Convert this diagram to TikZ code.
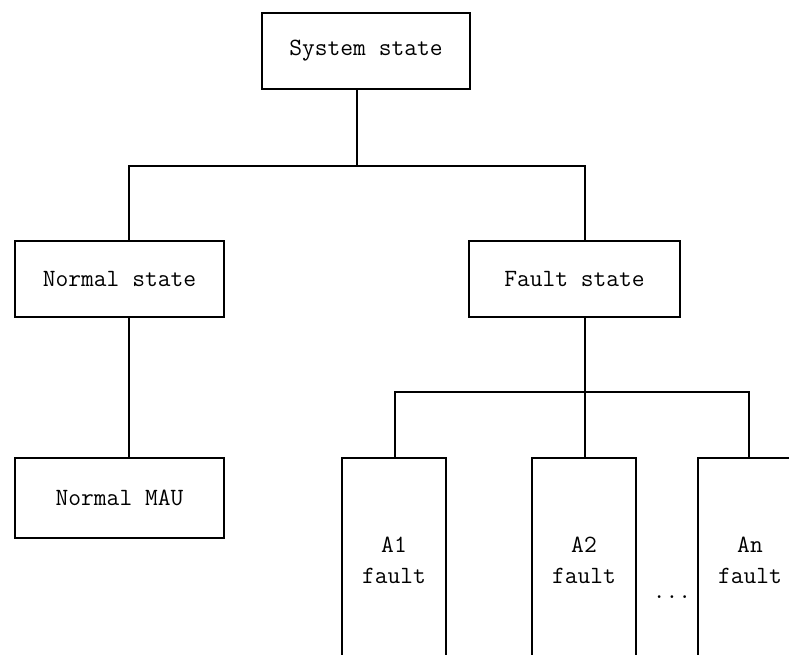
\documentclass[tikz,border=0pt]{standalone}
\usepackage{tikz}
\usetikzlibrary{positioning}
\tikzset{
    statebox/.style={
    rectangle,draw=black,line width=1.2pt,minimum width=209pt,minimum height=76pt,inner sep=0pt,
    font=\fontsize{24.8}{31}\selectfont\ttfamily
    },
    faultbox/.style={
    rectangle,draw=black,line width=1.2pt,minimum width=104pt,minimum height=204pt,inner sep=0pt,
    align=center,font=\fontsize{24.8}{31}\selectfont\ttfamily
    },
    link/.style={
    draw=black,line width=1.2pt
    },
}

\begin{document}
\begin{tikzpicture}[x=1pt, y=-1pt]
   \useasboundingbox (0,0) rectangle (789,654);
   \clip (0,0) rectangle (789,654);
   \node[statebox,minimum width=208pt] (sys) at (366,51) {System state};
   \node[statebox] (norm) at (119.5,279) {Normal state};
   \node[statebox,minimum width=211pt] (fault) at (574.5,279) {Fault state};
   \node[statebox,minimum height=80pt] (mau) at (119.5,498) {Normal MAU};
   \node[faultbox] (a1) at (394,560) {A1\\fault};
   \node[faultbox] (a2) at (584,560) {A2\\fault};
   \node[faultbox] (an) at (750,560) {An\\fault};
   \node[anchor=base,font=\fontsize{24.8}{31}\selectfont\ttfamily] (dots) at (672,598) {...};

   \coordinate (top) at (357,166);
   \coordinate (bot) at (585,392);
   \draw[link] (sys.south -| top) -- (top);
   \draw[link] ([xshift=9.5pt]norm.north) |- (top) -| ([xshift=10.5pt]fault.north);
   \draw[link] ([xshift=9.5pt]norm.south) -- ([xshift=9.5pt]mau.north);
   \draw[link] ([xshift=10.5pt]fault.south) -- (bot);
   \draw[link] ([xshift=1pt]a1.north) |- (bot) -| ([xshift=-1pt]an.north);
   \draw[link] ([xshift=1pt]a2.north) -- (bot);
\end{tikzpicture}
\end{document}
